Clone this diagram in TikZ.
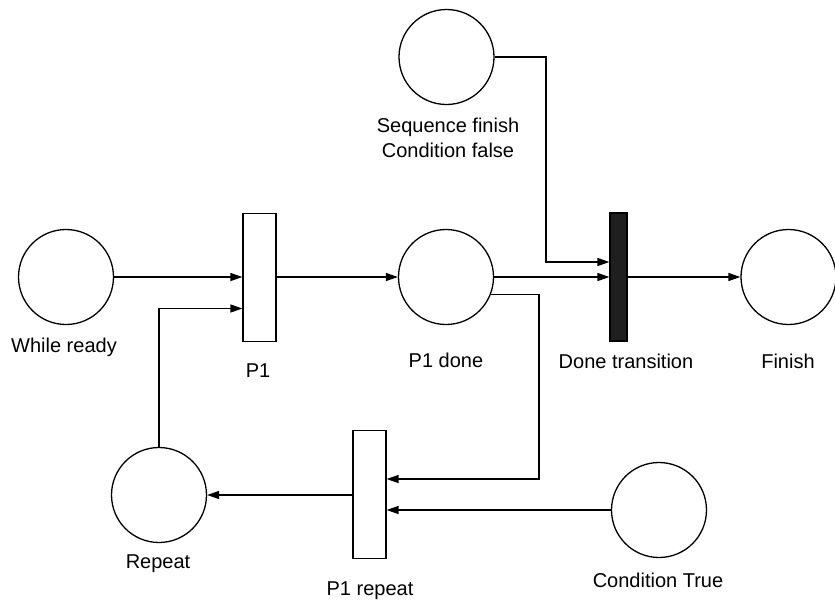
\documentclass[tikz,border=0pt]{standalone}
\usepackage{fontspec}
\setmainfont{Liberation Sans}
\usetikzlibrary{arrows.meta,calc}
\begin{document}
\begin{tikzpicture}[x=1pt,y=-1pt,
  place/.style={circle,draw,line width=1.3pt,minimum size=95pt,inner sep=0pt},
  trans/.style={rectangle,draw,line width=1.2pt,minimum width=33pt,minimum height=128pt,inner sep=0pt},
  blacktrans/.style={rectangle,draw,fill=black!88,line width=1.2pt,minimum width=17pt,minimum height=128pt,inner sep=0pt},
  lbl/.style={anchor=base,inner sep=0pt,font=\fontsize{20}{24}\selectfont},
  arr/.style={line width=1.3pt,-{Triangle[length=12pt,width=8pt]}}]
\useasboundingbox (0,0) rectangle (835,600);
% places
\node[place] (wr)  at (66,277) {};
\node[place] (pd)  at (446,277) {};
\node[place] (sf)  at (446.5,57) {};
\node[place] (fin) at (788.5,277) {};
\node[place] (rep) at (159,495) {};
\node[place] (ct)  at (659,510) {};
% transitions
\node[trans] (p1)  at (259.5,277.5) {};
\node[trans] (p1r) at (369.5,494.5) {};
\node[blacktrans] (dt) at (618.5,277) {};
% labels
\node[lbl] (lwr) at (64,352) {While ready};
\node[lbl] (lp1) at (258,377) {P1};
\node[lbl] (lpd) at (446,367) {P1 done};
\node[lbl] (ldt) at (626,368) {Done transition};
\node[lbl] (lfin) at (788,368) {Finish};
\node[lbl] (lsf1) at (448,132) {Sequence finish};
\node[lbl] (lsf2) at (448,157) {Condition false};
\node[lbl] (lrep) at (158,568) {Repeat};
\node[lbl] (lp1r) at (370,595) {P1 repeat};
\node[lbl] (lct) at (658,587) {Condition True};
% connectors
\coordinate (sfc) at (546,57);
\coordinate (pdc) at (539,294);
\draw[arr] (wr.east) -- (p1.west |- wr.east);
\draw[arr] (rep.north) |- ($(p1.west)+(0,31)$);
\draw[arr] (p1.east |- pd.west) -- (pd.west);
\draw[arr] (pd.east) -- (pd.east -| dt.west);
\draw[arr] (sf.east) -- (sfc) |- ($(dt.west)+(0,-15)$);
\draw[arr] (pd.-21) -- (pd.-21 -| pdc) |- ($(p1r.east)+(0,-15.5)$);
\draw[arr] (ct.west) -- (ct.west -| p1r.east);
\draw[arr] (p1r.west |- rep.east) -- (rep.east);
\draw[arr] (dt.east |- fin.west) -- (fin.west);
\end{tikzpicture}
\end{document}
